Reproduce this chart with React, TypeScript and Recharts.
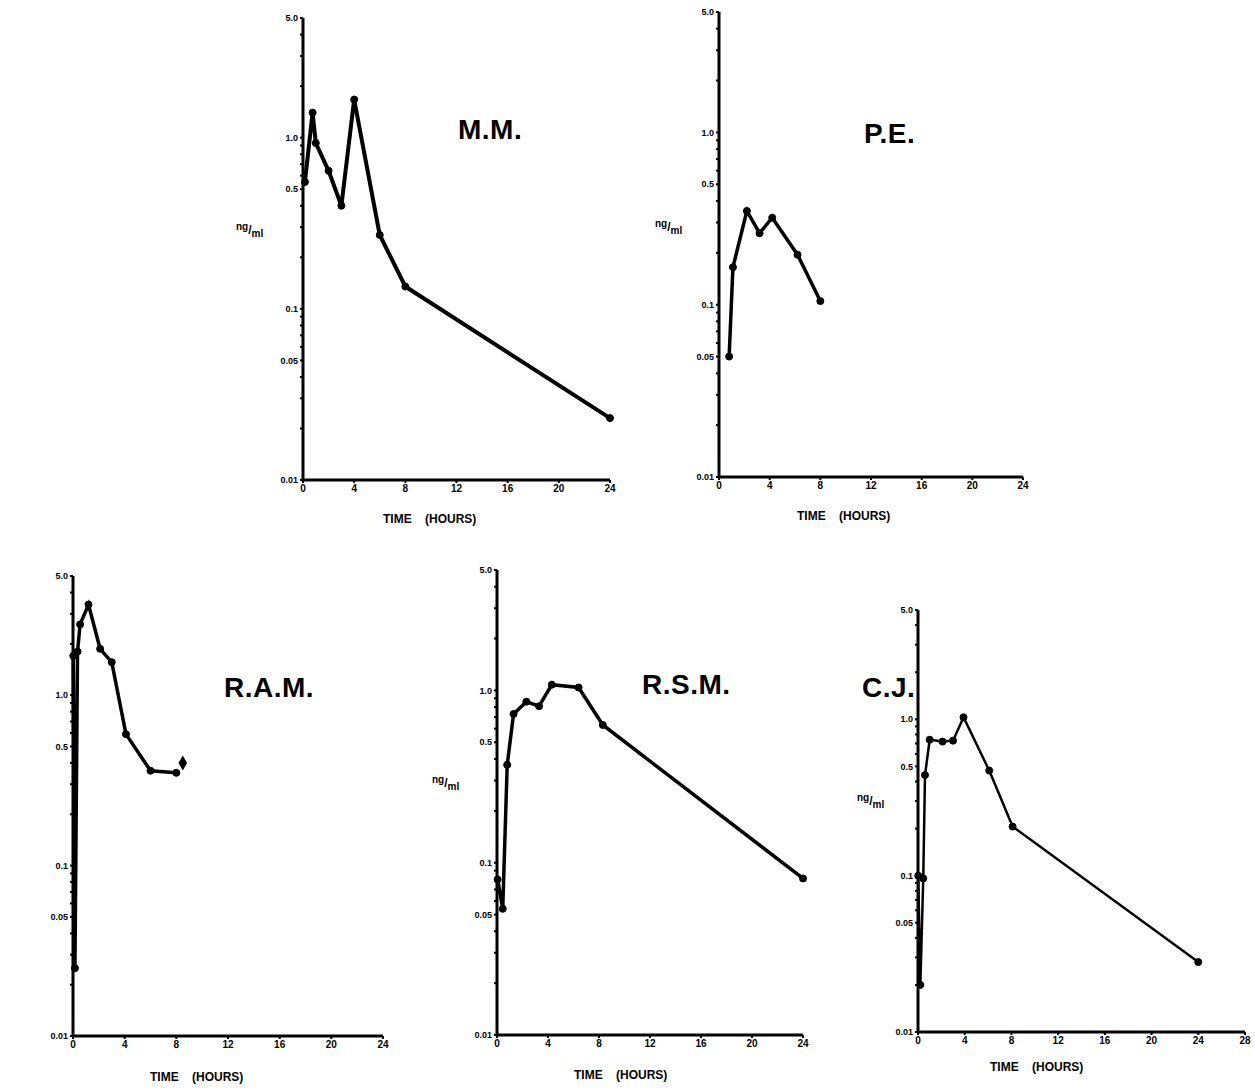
import { ComposedChart, Line, Scatter, XAxis, YAxis } from 'recharts';

// sampling times (hours) and plasma levels (ng/ml)
const mmTime = [0.15, 0.75, 1, 2, 3, 4, 6, 8, 24];
const mmConc = [0.55, 1.4, 0.93, 0.64, 0.4, 1.67, 0.27, 0.135, 0.023];

const peTime = [0.8, 1.1, 2.2, 3.2, 4.2, 6.2, 8.0];
const peConc = [0.05, 0.165, 0.35, 0.26, 0.32, 0.195, 0.105];

const ramTime = [0.02, 0.15, 0.35, 0.55, 1.2, 2.1, 3.0, 4.1, 6.0, 8.0];
const ramConc = [1.7, 0.025, 1.8, 2.6, 3.4, 1.87, 1.56, 0.59, 0.36, 0.35];
const ramExtraTime = [8.5];
const ramExtraConc = [0.4];

const rsmTime = [0.05, 0.45, 0.8, 1.3, 2.3, 3.3, 4.3, 6.4, 8.3, 24];
const rsmConc = [0.08, 0.054, 0.37, 0.73, 0.86, 0.81, 1.08, 1.04, 0.63, 0.081];

const cjTime = [0.02, 0.2, 0.45, 0.6, 1.0, 2.1, 3.0, 3.9, 6.1, 8.1, 24];
const cjConc = [0.1, 0.02, 0.096, 0.44, 0.74, 0.72, 0.73, 1.03, 0.47, 0.206, 0.028];

const xTicks24 = [0, 4, 8, 12, 16, 20, 24];
const xTicks28 = [0, 4, 8, 12, 16, 20, 24, 28];

const yTicks = [
  0.01, 0.02, 0.03, 0.04, 0.05, 0.06, 0.07, 0.08, 0.09,
  0.1, 0.2, 0.3, 0.4, 0.5, 0.6, 0.7, 0.8, 0.9,
  1, 2, 3, 4, 5,
];
const yLabels: Record<string, string> = {
  '0.01': '0.01',
  '0.05': '0.05',
  '0.1': '0.1',
  '0.5': '0.5',
  '1': '1.0',
  '5': '5.0',
};

const FONT = '"Liberation Sans", Arial, sans-serif';

const toRows = (t: number[], c: number[]) => t.map((v, i) => ({ t: v, c: c[i] }));

interface PanelProps {
  left: number;
  top: number;
  width: number;
  height: number;
  xMax: number;
  xTicks: number[];
  data: { t: number; c: number }[];
  extra?: { t: number; c: number }[];
  lineWidth?: number;
}

function Panel({ left, top, width, height, xMax, xTicks, data, extra, lineWidth = 3.5 }: PanelProps) {
  const ML = 40;
  const MT = 8;
  const MR = 10;
  const XH = 24;
  return (
    <div style={{ position: 'absolute', left: left - ML, top: top - MT }}>
      <ComposedChart
        width={width + ML + MR}
        height={height + MT + XH}
        data={data}
        margin={{ top: MT, right: MR, bottom: 0, left: 0 }}
      >
        <XAxis
          dataKey="t"
          type="number"
          domain={[0, xMax]}
          ticks={xTicks}
          interval={0}
          height={XH}
          axisLine={{ stroke: '#000', strokeWidth: 3 }}
          tickLine={{ stroke: '#000', strokeWidth: 2 }}
          tickSize={3}
          tickMargin={2}
          tick={{ fill: '#000', fontSize: 10, fontWeight: 700, fontFamily: FONT }}
        />
        <YAxis
          dataKey="c"
          type="number"
          scale="log"
          domain={[0.01, 5]}
          ticks={yTicks}
          interval={0}
          width={ML}
          axisLine={{ stroke: '#000', strokeWidth: 3 }}
          tickLine={{ stroke: '#000', strokeWidth: 2 }}
          tickSize={3}
          tickMargin={2}
          tickFormatter={(v: number) => yLabels[String(v)] ?? ''}
          tick={{ fill: '#000', fontSize: 9, fontWeight: 700, fontFamily: FONT }}
        />
        <Line
          dataKey="c"
          stroke="#000"
          strokeWidth={lineWidth}
          dot={{ r: 3.5, fill: '#000', stroke: '#000', strokeWidth: 1 }}
          isAnimationActive={false}
        />
        {extra && (
          <Scatter data={extra} dataKey="c" shape="diamond" fill="#000" isAnimationActive={false} />
        )}
      </ComposedChart>
    </div>
  );
}

function Title({ x, y, text }: { x: number; y: number; text: string }) {
  return (
    <div
      style={{
        position: 'absolute',
        left: x,
        top: y,
        fontFamily: FONT,
        fontWeight: 900,
        fontSize: 28,
        lineHeight: '28px',
        letterSpacing: 0.5,
        whiteSpace: 'nowrap',
      }}
    >
      {text}
    </div>
  );
}

function TimeLabel({ x, y }: { x: number; y: number }) {
  return (
    <div
      style={{
        position: 'absolute',
        left: x,
        top: y,
        fontFamily: FONT,
        fontWeight: 900,
        fontSize: 12,
        lineHeight: '14px',
        whiteSpace: 'pre',
      }}
    >
      {'TIME    (HOURS)'}
    </div>
  );
}

function UnitLabel({ x, y }: { x: number; y: number }) {
  return (
    <div
      style={{
        position: 'absolute',
        left: x,
        top: y,
        fontFamily: FONT,
        fontWeight: 900,
        fontSize: 10,
        lineHeight: '20px',
        whiteSpace: 'nowrap',
      }}
    >
      <span style={{ position: 'relative', top: -4 }}>ng</span>
      <span style={{ fontSize: 12 }}>/</span>
      <span style={{ position: 'relative', top: 3 }}>ml</span>
    </div>
  );
}

export default function App() {
  return (
    <div style={{ position: 'absolute', left: 0, top: 0, width: 1255, height: 1090, background: '#fff' }}>
      <Panel left={303} top={18} width={307} height={462} xMax={24} xTicks={xTicks24} data={toRows(mmTime, mmConc)} lineWidth={4} />
      <Panel left={719} top={12} width={304} height={465} xMax={24} xTicks={xTicks24} data={toRows(peTime, peConc)} />
      <Panel
        left={73}
        top={576}
        width={310}
        height={460}
        xMax={24}
        xTicks={xTicks24}
        data={toRows(ramTime, ramConc)}
        extra={toRows(ramExtraTime, ramExtraConc)}
      />
      <Panel left={497} top={570} width={306} height={465} xMax={24} xTicks={xTicks24} data={toRows(rsmTime, rsmConc)} />
      <Panel left={918} top={610} width={327} height={422} xMax={28} xTicks={xTicks28} data={toRows(cjTime, cjConc)} lineWidth={2.5} />

      <Title x={458} y={116} text="M.M." />
      <Title x={864} y={120} text="P.E." />
      <Title x={224} y={674} text="R.A.M." />
      <Title x={642} y={671} text="R.S.M." />
      <Title x={862} y={674} text="C.J." />

      <UnitLabel x={236} y={220} />
      <UnitLabel x={655} y={217} />
      <UnitLabel x={432} y={773} />
      <UnitLabel x={857} y={791} />

      <TimeLabel x={383} y={512} />
      <TimeLabel x={797} y={509} />
      <TimeLabel x={150} y={1070} />
      <TimeLabel x={574} y={1068} />
      <TimeLabel x={990} y={1060} />
    </div>
  );
}
